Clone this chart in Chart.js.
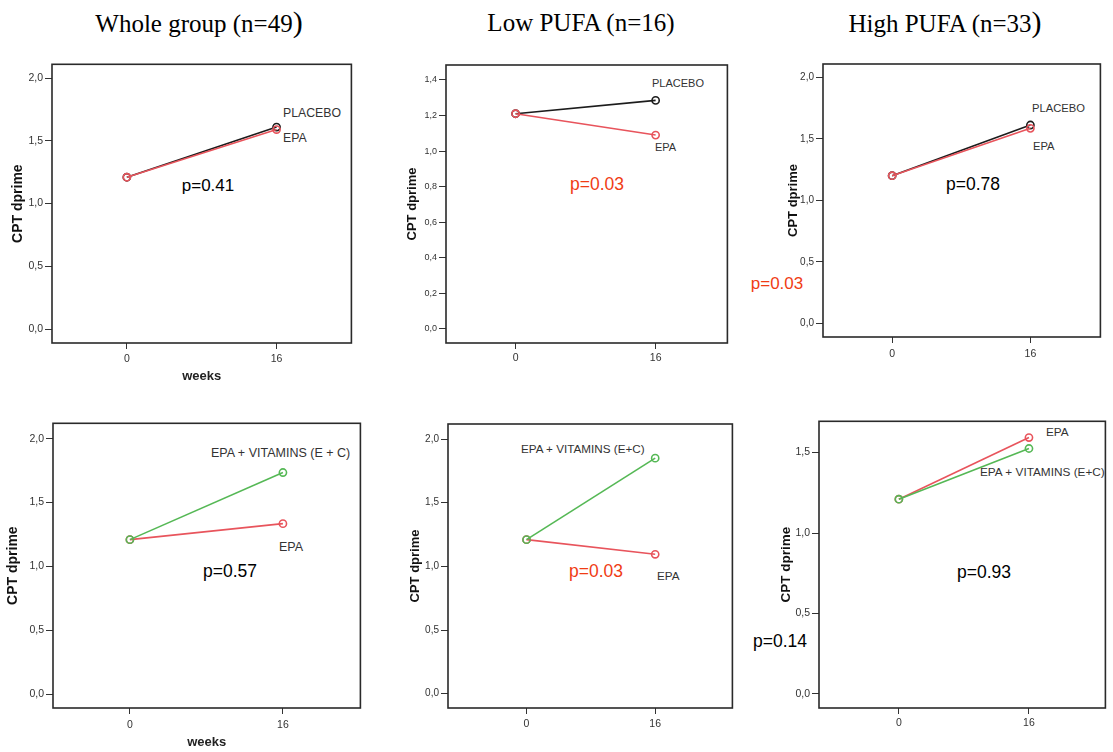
<!DOCTYPE html>
<html>
<head>
<meta charset="utf-8">
<script src="https://cdn.jsdelivr.net/npm/chart.js@4.4.1/dist/chart.umd.min.js"></script>
<style>
  html, body { margin:0; padding:0; background:#fff; width:1113px; height:752px; overflow:hidden; }
  #root { position:relative; width:1113px; height:752px; }
  canvas { position:absolute; }
  .txt { position:absolute; white-space:nowrap; line-height:1; font-family:"Liberation Sans", Arial, sans-serif; }
  .title { position:absolute; white-space:nowrap; line-height:1; font-family:"Liberation Serif", "Times New Roman", serif; font-size:25px; color:#000; transform:translate(-50%,-50%); }
</style>
</head>
<body>
<div id="root"></div>
<script>
// ---------- DATA ----------
const weeks = [0, 16];
const weekLabels = ['0', '16'];

// Top row: PLACEBO vs EPA
const wholePlacebo = [1.21, 1.61];
const wholeEPA     = [1.21, 1.59];
const lowPlacebo   = [1.21, 1.285];
const lowEPA       = [1.21, 1.09];
const highPlacebo  = [1.20, 1.612];
const highEPA      = [1.20, 1.585];

// Bottom row: EPA vs EPA + VITAMINS (E + C)
const wholeEPA2    = [1.21, 1.335];
const wholeVit     = [1.21, 1.735];
const lowEPA2      = [1.21, 1.095];
const lowVit       = [1.21, 1.85];
const highEPA2     = [1.21, 1.593];
const highVit      = [1.21, 1.525];

// Y tick values and labels
const yTicks2      = [0, 0.5, 1.0, 1.5, 2.0];
const yTickLabels2 = ['0,0', '0,5', '1,0', '1,5', '2,0'];
const yTicksLow    = [0, 0.2, 0.4, 0.6, 0.8, 1.0, 1.2, 1.4];
const yTickLabelsLow = ['0,0', '0,2', '0,4', '0,6', '0,8', '1,0', '1,2', '1,4'];
const yTicks15     = [0, 0.5, 1.0, 1.5];
const yTickLabels15 = ['0,0', '0,5', '1,0', '1,5'];

const titles = ['Whole group (n=49', 'Low PUFA (n=16)', 'High PUFA (n=33'];
const yAxisTitle = 'CPT dprime';
const xAxisTitle = 'weeks';

// ---------- STYLE ----------
const BLACK = '#1c1c1c';
const RED = '#e8545c';
const GREEN = '#55b855';
const PRED = '#f03c14';
const LABEL = '#333333';

// series listed bottom-to-top (last one is drawn on top)
const panels = [
  { box:[52,64,352,343],  xr:[-8,24],   yr:[-0.111,2.11], ticks:yTicks2, tlabels:yTickLabels2,
    series:[{d:wholePlacebo,c:BLACK},{d:wholeEPA,c:RED}], yt:{size:14,off:34}, xt:{size:13,d:33}, tsize:10.5, xlab:16 },
  { box:[446,65,728,343], xr:[-7.95,24.2], yr:[-0.079,1.484], ticks:yTicksLow, tlabels:yTickLabelsLow,
    series:[{d:lowPlacebo,c:BLACK},{d:lowEPA,c:RED}], yt:{size:13,off:34}, xt:null, tsize:9, xlab:15 },
  { box:[823,64,1101,337], xr:[-8,24.1], yr:[-0.111,2.108], ticks:yTicks2, tlabels:yTickLabels2,
    series:[{d:highPlacebo,c:BLACK},{d:highEPA,c:RED}], yt:{size:13,off:30}, xt:null, tsize:10, xlab:17 },
  { box:[53,423,361,708], xr:[-8.04,24.1], yr:[-0.107,2.12], ticks:yTicks2, tlabels:yTickLabels2,
    series:[{d:wholeEPA2,c:RED},{d:wholeVit,c:GREEN}], yt:{size:14,off:40}, xt:{size:13,d:34}, tsize:10.5, xlab:17 },
  { box:[448,424,733,708], xr:[-9.76,25.6], yr:[-0.112,2.118], ticks:yTicks2, tlabels:yTickLabels2,
    series:[{d:lowEPA2,c:RED},{d:lowVit,c:GREEN}], yt:{size:13,off:33}, xt:null, tsize:10, xlab:16 },
  { box:[819,421,1106,708], xr:[-9.82,25.4], yr:[-0.087,1.694], ticks:yTicks15, tlabels:yTickLabels15,
    series:[{d:highEPA2,c:RED},{d:highVit,c:GREEN}], yt:{size:13.5,off:33}, xt:null, tsize:10.5, xlab:15 }
];

// text annotations (page positions)
const notes = [
  {t:'PLACEBO', x:283, y:113, a:'l', s:12.3, c:LABEL},
  {t:'EPA', x:283, y:138, a:'l', s:12.3, c:LABEL},
  {t:'p=0.41', x:208, y:185, a:'c', s:17, c:'#000'},

  {t:'PLACEBO', x:652, y:83, a:'l', s:11, c:LABEL},
  {t:'EPA', x:655, y:147, a:'l', s:11, c:LABEL},
  {t:'p=0.03', x:597, y:185, a:'c', s:17.5, c:PRED},

  {t:'PLACEBO', x:1032, y:109, a:'l', s:11.2, c:LABEL},
  {t:'EPA', x:1033, y:147, a:'l', s:11.2, c:LABEL},
  {t:'p=0.78', x:973, y:185, a:'c', s:17.5, c:'#000'},
  {t:'p=0.03', x:777, y:283, a:'c', s:17, c:PRED},

  {t:'EPA + VITAMINS (E + C)', x:211, y:453, a:'l', s:12.5, c:LABEL},
  {t:'EPA', x:279, y:547, a:'l', s:12.5, c:LABEL},
  {t:'p=0.57', x:230, y:572, a:'c', s:17.5, c:'#000'},

  {t:'EPA + VITAMINS (E+C)', x:521, y:449, a:'l', s:11.7, c:LABEL},
  {t:'EPA', x:657, y:576, a:'l', s:11.7, c:LABEL},
  {t:'p=0.03', x:596, y:572, a:'c', s:17.5, c:PRED},

  {t:'EPA', x:1046, y:433, a:'l', s:11.8, c:LABEL},
  {t:'EPA + VITAMINS (E+C)', x:980, y:473, a:'l', s:11.8, c:LABEL},
  {t:'p=0.93', x:984, y:573, a:'c', s:17.5, c:'#000'},
  {t:'p=0.14', x:780, y:642, a:'c', s:17.5, c:'#000'}
];

const root = document.getElementById('root');

// titles
const titlePos = [{x:199,y:22,big:true},{x:581,y:22,big:false},{x:945,y:22,big:true}];
titles.forEach((t,i) => {
  const d = document.createElement('div');
  d.className = 'title';
  d.style.left = titlePos[i].x + 'px';
  d.style.top = titlePos[i].y + 'px';
  d.textContent = t;
  if (titlePos[i].big) {
    const s = document.createElement('span');
    s.style.fontSize = '30px';
    s.textContent = ')';
    d.appendChild(s);
  }
  root.appendChild(d);
});

notes.forEach(n => {
  const d = document.createElement('div');
  d.className = 'txt';
  d.textContent = n.t;
  d.style.left = n.x + 'px';
  d.style.top = n.y + 'px';
  d.style.fontSize = n.s + 'px';
  d.style.color = n.c;
  d.style.transform = n.a === 'c' ? 'translate(-50%,-50%)' : 'translate(0,-50%)';
  root.appendChild(d);
});

const boxPlugin = {
  id:'box',
  afterDraw(chart) {
    const {ctx, chartArea:a} = chart;
    ctx.save();
    ctx.strokeStyle = '#2a2a2a';
    ctx.lineWidth = 1.6;
    ctx.strokeRect(a.left, a.top, a.right - a.left, a.bottom - a.top);
    ctx.restore();
  }
};

const LEFTW = 50, TOPP = 8, RIGHTP = 5, BOTH = 45;
const FONT = '"Liberation Sans", Arial, sans-serif';

panels.forEach(p => {
  const [L,T,R,B] = p.box;
  const cv = document.createElement('canvas');
  const w = (R - L) + LEFTW + RIGHTP;
  const h = (B - T) + TOPP + BOTH;
  cv.width = w; cv.height = h;
  cv.style.width = w + 'px'; cv.style.height = h + 'px';
  cv.style.left = (L - LEFTW) + 'px';
  cv.style.top = (T - TOPP) + 'px';
  root.appendChild(cv);

  const ytLH = p.yt.size * 1.2;
  const n = p.series.length;
  const datasets = p.series.map((s, k) => ({
    data: weeks.map((wk,i) => ({x:wk, y:s.d[i]})),
    order: n - k,
    borderColor: s.c,
    borderWidth: 1.6,
    pointRadius: 3.6,
    pointBorderWidth: 1.6,
    pointBorderColor: s.c,
    pointBackgroundColor: 'rgba(255,255,255,0)',
    pointStyle: 'circle',
    tension: 0,
    fill: false
  }));

  const xTitle = p.xt ? {
    display:true, text:xAxisTitle, color:'#222',
    font:{family:FONT, size:p.xt.size, weight:'bold'},
    padding:{top:0, bottom: BOTH - p.xt.d - p.xt.size*1.2/2}
  } : {display:false};

  new Chart(cv, {
    type:'line',
    data:{datasets},
    plugins:[boxPlugin],
    options:{
      responsive:false,
      animation:false,
      devicePixelRatio: 1,
      layout:{padding:{left:0, top:TOPP, right:RIGHTP, bottom:0}},
      plugins:{legend:{display:false}, tooltip:{enabled:false}},
      scales:{
        x:{
          type:'linear', min:p.xr[0], max:p.xr[1],
          afterBuildTicks: ax => { ax.ticks = weeks.map(v => ({value:v})); },
          afterFit: ax => { ax.height = BOTH; },
          ticks:{ color:'#333', font:{family:FONT, size:10.5}, padding: p.xlab - 6 - 6,
                  callback:(v,i) => weekLabels[i] },
          grid:{ drawOnChartArea:false, drawTicks:true, tickLength:6, color:'#333', lineWidth:1 },
          border:{ display:false },
          title: xTitle
        },
        y:{
          type:'linear', min:p.yr[0], max:p.yr[1],
          afterBuildTicks: ax => { ax.ticks = p.ticks.map(v => ({value:v})); },
          afterFit: ax => { ax.width = LEFTW; },
          ticks:{ color:'#333', font:{family:FONT, size:p.tsize}, padding:2,
                  callback:(v,i) => p.tlabels[i] },
          grid:{ drawOnChartArea:false, drawTicks:true, tickLength:7, color:'#333', lineWidth:1 },
          border:{ display:false },
          title:{ display:true, text:yAxisTitle, color:'#111',
                  font:{family:FONT, size:p.yt.size, weight:'bold'},
                  padding:{top: LEFTW - p.yt.off - ytLH/2, bottom:0} }
        }
      }
    }
  });
});
</script>
</body>
</html>
